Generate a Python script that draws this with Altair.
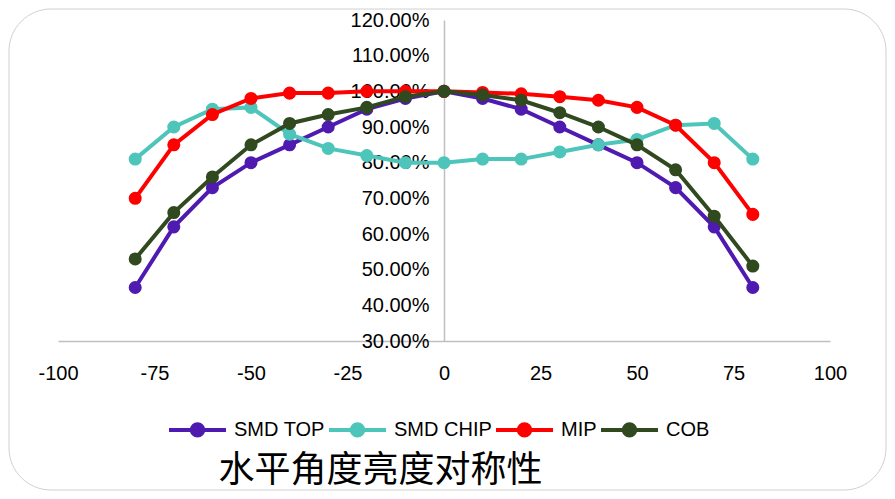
import altair as alt
import pandas as pd

angles = [-80, -70, -60, -50, -40, -30, -20, -10, 0, 10, 20, 30, 40, 50, 60, 70, 80]
series_names = ["SMD TOP", "SMD CHIP", "MIP", "COB"]
smd_top = [45, 62, 73, 80, 85, 90, 95, 98, 100, 98, 95, 90, 85, 80, 73, 62, 45]
smd_chip = [81, 90, 95, 95.5, 88, 84, 82, 80, 80, 81, 81, 83, 85, 86.5, 90.5, 91, 81]
mip = [70, 85, 93.5, 98, 99.5, 99.5, 100, 100, 100, 99.7, 99.3, 98.5, 97.5, 95.5, 90.5, 80, 65.5]
cob = [53, 66, 76, 85, 91, 93.5, 95.5, 98.5, 100, 99, 97.5, 94, 90, 85, 78, 65, 51]
colors = ["#4E1AB0", "#4EC5BA", "#FF0000", "#30491E"]
x_ticks = [-100, -75, -50, -25, 0, 25, 50, 75, 100]
y_ticks = [0.3, 0.4, 0.5, 0.6, 0.7, 0.8, 0.9, 1.0, 1.1, 1.2]
title_text = "水平角度亮度对称性"

rows = []
for name, vals in zip(series_names, [smd_top, smd_chip, mip, cob]):
    for a, v in zip(angles, vals):
        rows.append({"series": name, "angle": a, "value": v / 100.0})
df = pd.DataFrame(rows)

W, H = 772, 321

color_enc = alt.Color(
    "series:N",
    scale=alt.Scale(domain=series_names, range=colors),
    legend=alt.Legend(
        title=None,
        orient="none",
        legendX=109,
        legendY=379,
        direction="horizontal",
        symbolType="M-1,0H1M-0.2,0A0.2,0.2,0,1,1,0.2,0A0.2,0.2,0,1,1,-0.2,0Z",
        symbolSize=3249,
        symbolStrokeWidth=4,
        labelFont="Liberation Sans",
        labelFontSize=20,
        labelColor="black",
        labelOffset=6,
        columnPadding=-4,
        padding=0,
    ),
)

x_enc = alt.X(
    "angle:Q",
    scale=alt.Scale(domain=[-100, 100], nice=False),
    axis=alt.Axis(values=x_ticks, title=None, ticks=False, labelPadding=22, grid=False,
                  labelFlush=False, labelExpr="'' + datum.value"),
)
y_enc = alt.Y(
    "value:Q",
    scale=alt.Scale(domain=[0.3, 1.2], nice=False),
    axis=alt.Axis(values=y_ticks, format=".2%", title=None, ticks=False, labelPadding=15,
                  grid=False, offset=-(W / 2)),
)

layers = []
frame = alt.Chart(pd.DataFrame({"a": [0]})).mark_rect(
    fill=None, stroke="#d0d0d0", strokeWidth=1, cornerRadius=42
).encode(
    x=alt.value(-49), x2=alt.value(828), y=alt.value(-11), y2=alt.value(470)
)
layers.append(frame)

base = alt.Chart(df)
for name in series_names:
    sub = base.transform_filter(alt.datum.series == name)
    layers.append(sub.mark_line(strokeWidth=4).encode(x=x_enc, y=y_enc, color=color_enc))
    layers.append(sub.mark_point(filled=True, size=170, opacity=1).encode(x=x_enc, y=y_enc, color=color_enc))

chart = alt.layer(*layers).properties(
    width=W,
    height=H,
    background="white",
    autosize=alt.AutoSizeParams(type="none"),
    padding={"left": 50, "top": 12, "right": 57, "bottom": 150},
    title=alt.TitleParams(
        text=title_text,
        orient="bottom",
        anchor="start",
        dx=210,
        font="Noto Sans CJK SC",
        fontSize=36,
        fontWeight="normal",
        color="black",
        offset=-37,
    ),
).configure_axis(
    labelFont="Liberation Sans",
    labelFontSize=20,
    labelColor="black",
    domainColor="#bfbfbf",
    domainWidth=1.5,
).configure_view(stroke=None)

chart.save("out.html", embed_options={"renderer": "svg", "actions": False})
